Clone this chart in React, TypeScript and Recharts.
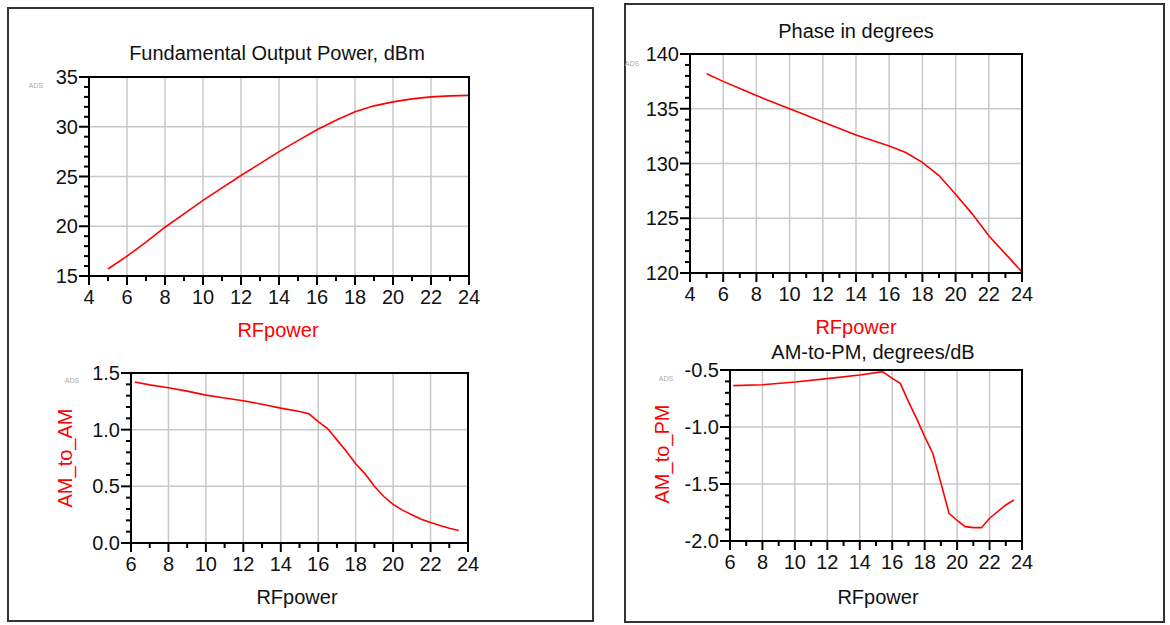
import React from 'react';
import { LineChart, Line, XAxis, YAxis, ReferenceLine } from 'recharts';

// Fundamental output power, dBm
const powerX = [5, 6, 7, 8, 9, 10, 11, 12, 13, 14, 15, 16, 17, 18, 19, 20, 21, 22, 23, 24];
const powerY = [15.7, 17.0, 18.4, 19.9, 21.25, 22.6, 23.85, 25.1, 26.3, 27.5, 28.6, 29.7, 30.65, 31.5, 32.1, 32.5, 32.8, 33.0, 33.1, 33.15];

// AM_to_AM
const amamX = [6.2, 7, 8, 9, 10, 11, 12, 13, 14, 15, 15.5, 16, 16.5, 17, 17.5, 18, 18.5, 19, 19.5, 20, 20.5, 21, 21.5, 22, 22.5, 23, 23.5];
const amamY = [1.42, 1.395, 1.37, 1.34, 1.305, 1.28, 1.255, 1.225, 1.19, 1.16, 1.14, 1.07, 1.01, 0.91, 0.81, 0.7, 0.61, 0.5, 0.41, 0.34, 0.29, 0.25, 0.21, 0.18, 0.155, 0.13, 0.11];

// Phase in degrees
const phaseX = [5, 6, 7, 8, 9, 10, 11, 12, 13, 14, 15, 16, 17, 18, 19, 20, 21, 22, 23, 24];
const phaseY = [138.2, 137.5, 136.85, 136.2, 135.6, 135.0, 134.4, 133.8, 133.2, 132.6, 132.1, 131.6, 131.0, 130.1, 128.9, 127.2, 125.4, 123.4, 121.75, 120.1];

// AM-to-PM, degrees/dB
const ampmX = [6.2, 8, 10, 12, 14, 15.4, 16, 16.5, 17, 17.5, 18, 18.5, 19, 19.5, 20, 20.5, 21, 21.5, 22, 23, 23.5];
const ampmY = [-0.637, -0.63, -0.605, -0.576, -0.544, -0.515, -0.573, -0.617, -0.778, -0.924, -1.085, -1.23, -1.49, -1.757, -1.82, -1.874, -1.883, -1.883, -1.8, -1.684, -1.64];

// axis ticks
const xTicks4 = [4, 5, 6, 7, 8, 9, 10, 11, 12, 13, 14, 15, 16, 17, 18, 19, 20, 21, 22, 23, 24];
const xMajor4 = [4, 6, 8, 10, 12, 14, 16, 18, 20, 22, 24];
const xTicks6 = [6, 7, 8, 9, 10, 11, 12, 13, 14, 15, 16, 17, 18, 19, 20, 21, 22, 23, 24];
const xMajor6 = [6, 8, 10, 12, 14, 16, 18, 20, 22, 24];
const powerTicks = [15, 16, 17, 18, 19, 20, 21, 22, 23, 24, 25, 26, 27, 28, 29, 30, 31, 32, 33, 34, 35];
const powerMajor = [15, 20, 25, 30, 35];
const amamTicks = [0, 0.1, 0.2, 0.3, 0.4, 0.5, 0.6, 0.7, 0.8, 0.9, 1.0, 1.1, 1.2, 1.3, 1.4, 1.5];
const amamMajor = [0, 0.5, 1.0, 1.5];
const phaseTicks = [120, 121, 122, 123, 124, 125, 126, 127, 128, 129, 130, 131, 132, 133, 134, 135, 136, 137, 138, 139, 140];
const phaseMajor = [120, 125, 130, 135, 140];
const ampmTicks = [-2.0, -1.9, -1.8, -1.7, -1.6, -1.5, -1.4, -1.3, -1.2, -1.1, -1.0, -0.9, -0.8, -0.7, -0.6, -0.5];
const ampmMajor = [-2.0, -1.5, -1.0, -0.5];

const FONT = '"Liberation Sans", Arial, sans-serif';

const isIn = (list: number[], v: number) => list.some((m) => Math.abs(m - v) < 1e-6);

type PlotProps = {
  left: number;
  top: number;
  width: number;
  height: number;
  xs: number[];
  ys: number[];
  xDomain: [number, number];
  yDomain: [number, number];
  xTicks: number[];
  xMajor: number[];
  yTicks: number[];
  yMajor: number[];
  digits: number;
};

const Plot = ({ left, top, width, height, xs, ys, xDomain, yDomain, xTicks, xMajor, yTicks, yMajor, digits }: PlotProps) => {
  const data = xs.map((x, i) => ({ x, y: ys[i] }));
  const padL = 80;
  const padT = 10;
  // grid only inside the frame
  const xGrid = xMajor.filter((v) => v > xDomain[0] && v < xDomain[1]);
  const yGrid = yMajor.filter((v) => v > yDomain[0] && v < yDomain[1]);

  const xTick = (p: any) => {
    const major = isIn(xMajor, p.payload.value);
    return (
      <g>
        <line x1={p.x} x2={p.x} y1={p.y} y2={p.y + (major ? 9 : 5)} stroke="#000" strokeWidth={2} />
        {major && (
          <text x={p.x} y={p.y + 28} textAnchor="middle" fontSize={20} fill="#111" fontFamily={FONT}>
            {p.payload.value}
          </text>
        )}
      </g>
    );
  };

  const yTick = (p: any) => {
    const major = isIn(yMajor, p.payload.value);
    return (
      <g>
        <line x1={p.x - (major ? 10 : 5)} x2={p.x} y1={p.y} y2={p.y} stroke="#000" strokeWidth={2} />
        {major && (
          <text x={p.x - 11} y={p.y + 7} textAnchor="end" fontSize={20} fill="#111" fontFamily={FONT}>
            {Number(p.payload.value).toFixed(digits)}
          </text>
        )}
      </g>
    );
  };

  return (
    <div style={{ position: 'absolute', left: left - padL, top: top - padT, width: width + padL + 20, height: height + padT + 40 }}>
      <LineChart width={width + padL + 20} height={height + padT + 40} data={data} margin={{ top: padT, right: 20, bottom: 0, left: 0 }}>
        <XAxis
          dataKey="x"
          type="number"
          domain={xDomain}
          ticks={xTicks}
          interval={0}
          tickSize={0}
          tickMargin={0}
          tick={xTick}
          tickLine={false}
          axisLine={false}
          height={40}
          allowDataOverflow
        />
        <YAxis
          type="number"
          domain={yDomain}
          ticks={yTicks}
          interval={0}
          tickSize={0}
          tickMargin={0}
          tick={yTick}
          tickLine={false}
          axisLine={false}
          width={padL}
          allowDataOverflow
        />
        {xGrid.map((v) => (
          <ReferenceLine key={'x' + v} x={v} stroke="#c8c8c8" strokeWidth={1.5} />
        ))}
        {yGrid.map((v) => (
          <ReferenceLine key={'y' + v} y={v} stroke="#c8c8c8" strokeWidth={1.5} />
        ))}
        <Line dataKey="y" type="linear" stroke="#ff0000" strokeWidth={1.6} dot={false} isAnimationActive={false} />
      </LineChart>
      {/* plot frame */}
      <div
        style={{
          position: 'absolute',
          left: padL - 1,
          top: padT - 1,
          width: width + 2,
          height: height + 2,
          boxSizing: 'border-box',
          border: '2px solid #000',
          pointerEvents: 'none',
          zIndex: 5,
        }}
      />
    </div>
  );
};

const Label = ({ x, y, text, color = '#111', size = 20, rotate = false }: { x: number; y: number; text: string; color?: string; size?: number; rotate?: boolean }) => (
  <div
    style={{
      position: 'absolute',
      left: x,
      top: y,
      transform: `translate(-50%, -50%)${rotate ? ' rotate(-90deg)' : ''}`,
      fontSize: size,
      lineHeight: 1,
      color,
      whiteSpace: 'nowrap',
      fontFamily: FONT,
    }}
  >
    {text}
  </div>
);

export default function App() {
  return (
    <div style={{ position: 'absolute', left: 0, top: 0, width: 1170, height: 625, background: '#fff', overflow: 'hidden', fontFamily: FONT }}>
      <div style={{ position: 'absolute', left: 7, top: 7, width: 583, height: 611, border: '2px solid #333' }} />
      <div style={{ position: 'absolute', left: 624, top: 3, width: 537, height: 616, border: '2px solid #333' }} />

      <Label x={277} y={53} text="Fundamental Output Power, dBm" />
      <Label x={36} y={85} text="ADS" size={7} color="#aaa" />
      <Plot left={89} top={77} width={380} height={199} xs={powerX} ys={powerY} xDomain={[4, 24]} yDomain={[15, 35]}
        xTicks={xTicks4} xMajor={xMajor4} yTicks={powerTicks} yMajor={powerMajor} digits={0} />
      <Label x={278} y={330} text="RFpower" color="#ff0000" />

      <Label x={72} y={380} text="ADS" size={7} color="#aaa" />
      <Label x={65} y={458} text="AM_to_AM" color="#ff0000" rotate />
      <Plot left={131} top={373} width={337} height={170} xs={amamX} ys={amamY} xDomain={[6, 24]} yDomain={[0, 1.5]}
        xTicks={xTicks6} xMajor={xMajor6} yTicks={amamTicks} yMajor={amamMajor} digits={1} />
      <Label x={297} y={597} text="RFpower" />

      <Label x={856} y={31} text="Phase in degrees" />
      <Label x={632} y={63} text="ADS" size={7} color="#aaa" />
      <Plot left={690} top={54} width={332} height={219} xs={phaseX} ys={phaseY} xDomain={[4, 24]} yDomain={[120, 140]}
        xTicks={xTicks4} xMajor={xMajor4} yTicks={phaseTicks} yMajor={phaseMajor} digits={0} />
      <Label x={856} y={327} text="RFpower" color="#ff0000" />

      <Label x={873} y={352} text="AM-to-PM, degrees/dB" />
      <Label x={666} y={378} text="ADS" size={7} color="#aaa" />
      <Label x={662} y={454} text="AM_to_PM" color="#ff0000" rotate />
      <Plot left={730} top={370} width={292} height={171} xs={ampmX} ys={ampmY} xDomain={[6, 24]} yDomain={[-2, -0.5]}
        xTicks={xTicks6} xMajor={xMajor6} yTicks={ampmTicks} yMajor={ampmMajor} digits={1} />
      <Label x={878} y={597} text="RFpower" />
    </div>
  );
}
